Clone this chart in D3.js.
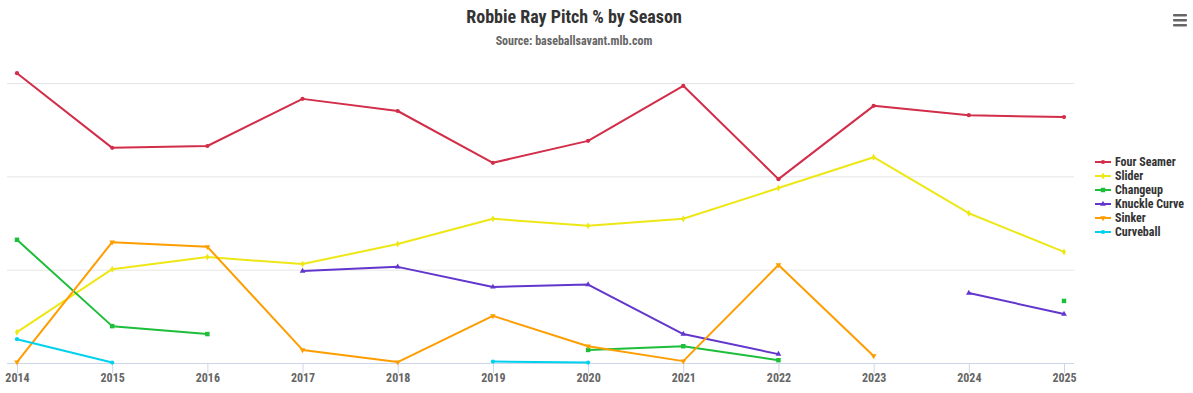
<!DOCTYPE html>
<html>
<head>
<meta charset="utf-8">
<script src="https://cdn.jsdelivr.net/npm/d3@7"></script>
<style>
  body { margin: 0; background: #fff; }
  text { font-family: "Liberation Sans Narrow", "Roboto Condensed", Roboto, sans-serif; font-weight: bold; }
</style>
</head>
<body>
<div id="chart"></div>
<script>
// seasons on the x axis
const seasons = ['2014', '2015', '2016', '2017', '2018', '2019', '2020', '2021', '2022', '2023', '2024', '2025'];

// pitch usage in percent, null = not thrown that season
const fourSeamer = [62.1, 46.1, 46.5, 56.6, 54.0, 42.9, 47.6, 59.4, 39.4, 55.1, 53.1, 52.7];
const slider = [6.6, 20.1, 22.7, 21.2, 25.5, 30.9, 29.4, 30.9, 37.5, 44.1, 32.1, 23.8];
const changeup = [26.4, 7.9, 6.2, null, null, null, 2.8, 3.6, 0.6, null, null, 13.3];
const knuckleCurve = [null, null, null, 19.7, 20.6, 16.3, 16.8, 6.2, 1.9, null, 15.0, 10.5];
const sinker = [0.2, 25.9, 24.9, 2.8, 0.2, 10.1, 3.6, 0.4, 21.0, 1.5, null, null];
const curveball = [5.1, 0.1, null, null, null, 0.3, 0.1, null, null, null, null, null];

const yTicks = [0, 20, 40, 60];

const series = [
  { name: 'Four Seamer', values: fourSeamer, color: '#d22d49', symbol: d3.symbolCircle },
  { name: 'Slider', values: slider, color: '#eee716', symbol: d3.symbolDiamond },
  { name: 'Changeup', values: changeup, color: '#1dbe3a', symbol: d3.symbolSquare },
  { name: 'Knuckle Curve', values: knuckleCurve, color: '#6236cd', symbol: d3.symbolTriangle },
  { name: 'Sinker', values: sinker, color: '#fe9d00', symbol: 'down' },
  { name: 'Curveball', values: curveball, color: '#00d1ed', symbol: d3.symbolCircle },
];

const width = 1193;
const height = 393;
const plot = { left: 7, right: 1074, top: 83, bottom: 363 };

const svg = d3.select('#chart')
  .append('svg')
  .attr('width', width)
  .attr('height', height);

// title + subtitle
svg.append('text')
  .attr('x', 574).attr('y', 23)
  .attr('text-anchor', 'middle')
  .attr('font-size', 18)
  .attr('fill', '#333')
  .text('Robbie Ray Pitch % by Season');

svg.append('text')
  .attr('x', 574).attr('y', 45)
  .attr('text-anchor', 'middle')
  .attr('font-size', 12)
  .attr('fill', '#666')
  .text('Source: baseballsavant.mlb.com');

// hamburger menu
const menu = svg.append('g').attr('transform', 'translate(1173, 14)');
[0, 5, 10].forEach(dy => {
  menu.append('rect').attr('x', 0).attr('y', dy).attr('width', 14).attr('height', 2.4).attr('rx', 1).attr('fill', '#666');
});

const x = d3.scalePoint()
  .domain(seasons)
  .range([plot.left, plot.right])
  .padding(0.105);

const y = d3.scaleLinear()
  .domain([0, 60])
  .range([plot.bottom, plot.top]);

// gridlines
svg.append('g')
  .attr('class', 'gridlines')
  .attr('transform', `translate(${plot.left}, 0)`)
  .call(d3.axisLeft(y).tickValues(yTicks).tickFormat('').tickSize(-(plot.right - plot.left)))
  .call(g => g.select('.domain').remove())
  .call(g => g.selectAll('line').attr('stroke', '#e6e6e6'));

// x axis
const xAxis = svg.append('g')
  .attr('transform', `translate(0, ${plot.bottom})`)
  .call(d3.axisBottom(x).tickSize(10).tickPadding(0).tickSizeOuter(0));
xAxis.select('.domain').attr('d', `M${plot.left},0.5H${plot.right}`).attr('stroke', '#ccd6eb');
xAxis.selectAll('.tick line').attr('stroke', '#ccd6eb');
xAxis.selectAll('.tick text').attr('fill', '#666').attr('font-size', 12)
  .style('font-family', '"Liberation Sans Narrow", "Roboto Condensed", sans-serif').style('font-weight', 'bold');

const line = d3.line()
  .defined(d => d.v != null)
  .x(d => x(d.season))
  .y(d => y(d.v));

function symbolPath(sym, size) {
  if (sym === 'down') return d3.symbol(d3.symbolTriangle, size)();
  return d3.symbol(sym, size)();
}

const lines = svg.append('g').attr('class', 'series');
series.forEach(s => {
  const pts = seasons.map((season, i) => ({ season, v: s.values[i] }));
  const g = lines.append('g');
  g.append('path')
    .datum(pts)
    .attr('fill', 'none')
    .attr('stroke', s.color)
    .attr('stroke-width', 2)
    .attr('stroke-linejoin', 'round')
    .attr('d', line);
  g.selectAll('path.marker')
    .data(pts.filter(d => d.v != null))
    .join('path')
    .attr('class', 'marker')
    .attr('fill', s.color)
    .attr('d', symbolPath(s.symbol, s.symbol === d3.symbolSquare ? 20 : 14))
    .attr('transform', d => `translate(${x(d.season)}, ${y(d.v)})` + (s.symbol === 'down' ? ' rotate(180)' : ''));
});

// legend
const legend = svg.append('g').attr('transform', 'translate(1095, 162)');
series.forEach((s, i) => {
  const item = legend.append('g').attr('transform', `translate(0, ${i * 14})`);
  item.append('line')
    .attr('x1', 0).attr('x2', 16)
    .attr('stroke', s.color).attr('stroke-width', 2);
  item.append('path')
    .attr('fill', s.color)
    .attr('d', symbolPath(s.symbol, s.symbol === d3.symbolSquare ? 20 : 14))
    .attr('transform', 'translate(8, 0)' + (s.symbol === 'down' ? ' rotate(180)' : ''));
  item.append('text')
    .attr('x', 20).attr('y', 4)
    .attr('font-size', 12)
    .attr('fill', '#333')
    .text(s.name);
});
</script>
</body>
</html>
